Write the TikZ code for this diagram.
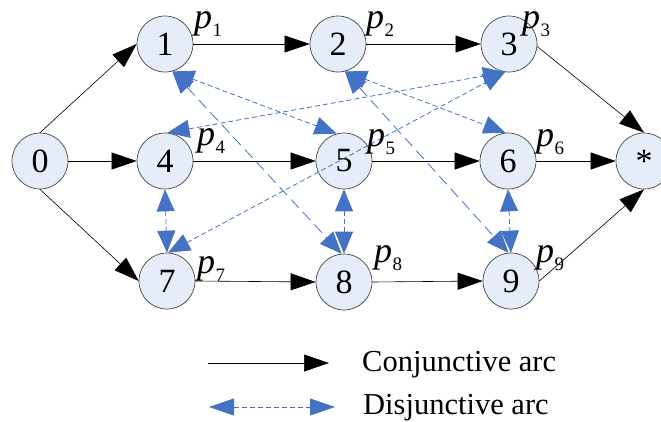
\documentclass[tikz,border=0pt]{standalone}
\usepackage{fontspec}
\setmainfont{Liberation Serif}
\usetikzlibrary{arrows.meta}
\definecolor{nodefill}{RGB}{230,237,248}
\definecolor{arcblue}{RGB}{68,114,196}
\definecolor{nodeline}{RGB}{70,70,70}
\newcommand\plab[1]{p\kern0.5pt\raisebox{-8pt}{\fontsize{19}{19}\selectfont\upshape #1}}
\begin{document}
\begin{tikzpicture}[x=1pt,y=-1pt,
  jobnode/.style={circle,draw=nodeline,fill=nodefill,line width=0.7pt,minimum size=56pt,inner sep=0pt,font=\fontsize{34}{34}\selectfont},
  conj/.style={black,line width=0.6pt,-{Triangle[length=25pt,width=17pt]}},
  disj/.style={arcblue,line width=0.8pt,dash pattern=on 5pt off 3pt,{Triangle[length=22pt,width=18pt]}-{Triangle[length=22pt,width=18pt]}},
  disjlong/.style={disj,dash pattern=on 11pt off 6pt},
  legdisj/.style={disj,{Triangle[length=25pt,width=17pt]}-{Triangle[length=25pt,width=17pt]}},
  plabel/.style={anchor=base west,inner sep=0pt,font=\fontsize{36}{36}\selectfont\itshape},
  legtext/.style={anchor=base west,inner sep=0pt,font=\fontsize{30.5}{30.5}\selectfont}
]
\useasboundingbox[fill=white] (0,0) rectangle (661,421);
% nodes
\node[jobnode] (n0) at (40,161) {0};
\node[jobnode] (n1) at (165,44) {1};
\node[jobnode] (n2) at (338,44) {2};
\node[jobnode] (n3) at (509,44) {3};
\node[jobnode] (n4) at (165,161) {4};
\node[jobnode] (n5) at (344,161) {5};
\node[jobnode] (n6) at (508,161) {6};
\node[jobnode] (nS) at (644,161) {*};
\node[jobnode] (n7) at (167,281) {7};
\node[jobnode] (n8) at (344,282) {8};
\node[jobnode] (n9) at (511,281) {9};
% conjunctive arcs
\draw[conj] (n0.north) -- (n1.west);
\draw[conj] (n0.east) -- (n4.west);
\draw[conj] (n0.south) -- (n7.west);
\draw[conj] (n1.east) -- (n2.west);
\draw[conj] (n2.east) -- (n3.west);
\draw[conj] (n3.-5) -- (nS.north);
\draw[conj] (n4.east) -- (n5.west);
\draw[conj] (n5.east) -- (n6.west);
\draw[conj] (n6.east) -- (nS.west);
\draw[conj] (n7.east) -- (n8.west);
\draw[conj] (n8.east) -- (n9.west);
\draw[conj] (n9.east) -- (nS.south);
% disjunctive arcs
\draw[disj] (n1.-75) -- (n5.105);
\draw[disjlong] (n1.-75) -- (n8.95);
\draw[disj] (n4.85) -- (n3.-98);
\draw[disj] (n7.88) -- (n3.-98);
\draw[disj] (n4.south) -- (n7.north);
\draw[disj] (n5.south) -- (n8.north);
\draw[disj] (n6.south) -- (n9.north);
\draw[disj] (n2.-76) -- (n6.95);
\draw[disjlong] (n2.-76) -- (n9.95);
% labels
\node[plabel] (l1) at (194,28) {\plab{1}};
\node[plabel] (l2) at (366,28) {\plab{2}};
\node[plabel] (l3) at (522,28) {\plab{3}};
\node[plabel] (l4) at (197,145) {\plab{4}};
\node[plabel] (l5) at (367,146) {\plab{5}};
\node[plabel] (l6) at (536,146) {\plab{6}};
\node[plabel] (l7) at (197,273) {\plab{7}};
\node[plabel] (l8) at (374,262) {\plab{8}};
\node[plabel] (l9) at (536,262) {\plab{9}};
% legend
\coordinate (c1) at (208,363);
\coordinate (c2) at (329,363);
\draw[conj] (c1) -- (c2);
\coordinate (d1) at (209,407);
\coordinate (d2) at (335,407);
\draw[legdisj] (d1) -- (d2);
\node[legtext] (t1) at (362,371) {Conjunctive arc};
\node[legtext] (t2) at (363,414) {Disjunctive arc};
\end{tikzpicture}
\end{document}
